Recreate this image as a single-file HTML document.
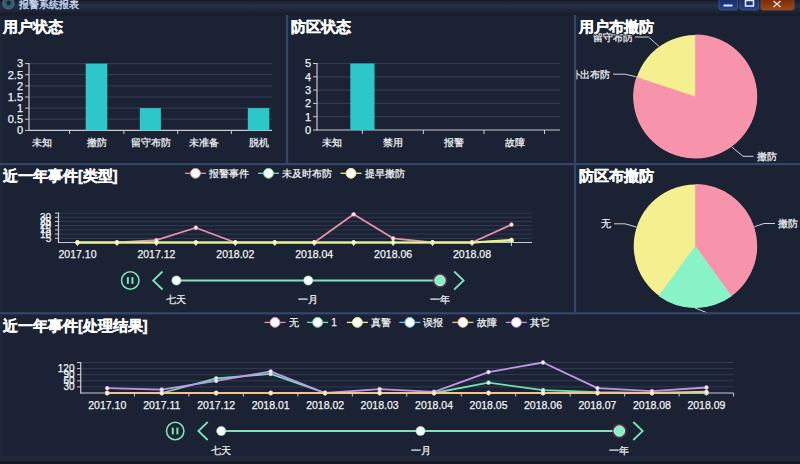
<!DOCTYPE html>
<html><head><meta charset="utf-8"><style>
html,body{margin:0;padding:0;background:#1a2233;width:800px;height:464px;overflow:hidden}
svg{display:block}
text{font-family:"Liberation Sans", sans-serif}
</style></head><body>
<svg width="800" height="464" viewBox="0 0 800 464">
<defs><linearGradient id="tb" x1="0" y1="0" x2="0" y2="1"><stop offset="0" stop-color="#10151f"/><stop offset="0.08" stop-color="#1b2232"/><stop offset="0.35" stop-color="#252f46"/><stop offset="0.6" stop-color="#1f2739"/><stop offset="0.9" stop-color="#171c29"/><stop offset="1" stop-color="#181e2b"/></linearGradient><linearGradient id="btnb" x1="0" y1="0" x2="0" y2="1"><stop offset="0" stop-color="#142762"/><stop offset="1" stop-color="#26418a"/></linearGradient><linearGradient id="btnr" x1="0" y1="0" x2="0" y2="1"><stop offset="0" stop-color="#6a2606"/><stop offset="1" stop-color="#a04814"/></linearGradient><radialGradient id="glow"><stop offset="0.6" stop-color="#f0d8e8" stop-opacity="0.9"/><stop offset="1" stop-color="#b07090" stop-opacity="0"/></radialGradient></defs>
<rect x="0" y="0" width="800" height="464" fill="#1a2233"/>
<rect x="0" y="0" width="800" height="16" fill="url(#tb)"/>
<circle cx="8.4" cy="3.4" r="6.2" fill="#56646f"/>
<circle cx="8.6" cy="3.1" r="5" fill="#2a5f78"/>
<circle cx="8.6" cy="2.8" r="2.1" fill="#241a1e"/>
<text x="19.00" y="7.60" font-size="10" text-anchor="start" fill="#c4d4ee" font-weight="normal" stroke="#c4d4ee" stroke-width="0.4">报警系统报表</text>
<rect x="719" y="-3" width="18.5" height="13" rx="2" fill="url(#btnb)" stroke="#4a5a80" stroke-width="0.8"/>
<rect x="723.5" y="4.5" width="9" height="2" fill="#dde6f5"/>
<rect x="740" y="-3" width="18.5" height="13" rx="2" fill="url(#btnb)" stroke="#4a5a80" stroke-width="0.8"/>
<rect x="745.5" y="0.5" width="8" height="5.5" fill="none" stroke="#dde6f5" stroke-width="1.6"/>
<rect x="761" y="-3" width="33" height="13" rx="2" fill="url(#btnr)" stroke="#7a5040" stroke-width="0.8"/>
<path d="M773.5 1 L780.5 7 M780.5 1 L773.5 7" stroke="#e8e0dc" stroke-width="1.3"/>
<rect x="0" y="16" width="2" height="448" fill="#1f2739"/>
<rect x="4" y="16" width="2" height="448" fill="#1c2435"/>
<rect x="0" y="456" width="800" height="5.5" fill="#1e2637"/>
<rect x="0" y="461.5" width="800" height="2.5" fill="#121723"/>
<text x="3.00" y="32.00" font-size="14.5" text-anchor="start" fill="#ffffff" font-weight="bold" stroke="#ffffff" stroke-width="0.35">用户状态</text>
<text x="290.50" y="32.00" font-size="14.5" text-anchor="start" fill="#ffffff" font-weight="bold" stroke="#ffffff" stroke-width="0.35">防区状态</text>
<text x="579.00" y="32.00" font-size="14.5" text-anchor="start" fill="#ffffff" font-weight="bold" stroke="#ffffff" stroke-width="0.35">用户布撤防</text>
<text x="3.00" y="181.00" font-size="14.5" text-anchor="start" fill="#ffffff" font-weight="bold" stroke="#ffffff" stroke-width="0.35">近一年事件[类型]</text>
<text x="579.00" y="181.00" font-size="14.5" text-anchor="start" fill="#ffffff" font-weight="bold" stroke="#ffffff" stroke-width="0.35">防区布撤防</text>
<text x="3.00" y="330.80" font-size="14.5" text-anchor="start" fill="#ffffff" font-weight="bold" stroke="#ffffff" stroke-width="0.35">近一年事件[处理结果]</text>
<line x1="29.00" y1="63.60" x2="272.00" y2="63.60" stroke="#303b52" stroke-width="1.2" />
<line x1="29.00" y1="74.70" x2="272.00" y2="74.70" stroke="#303b52" stroke-width="1.2" />
<line x1="29.00" y1="85.90" x2="272.00" y2="85.90" stroke="#303b52" stroke-width="1.2" />
<line x1="29.00" y1="97.00" x2="272.00" y2="97.00" stroke="#303b52" stroke-width="1.2" />
<line x1="29.00" y1="108.10" x2="272.00" y2="108.10" stroke="#303b52" stroke-width="1.2" />
<line x1="29.00" y1="119.20" x2="272.00" y2="119.20" stroke="#303b52" stroke-width="1.2" />
<line x1="29.00" y1="130.40" x2="272.00" y2="130.40" stroke="#c9ccd3" stroke-width="1.2" />
<line x1="29.00" y1="63.00" x2="29.00" y2="131.00" stroke="#c9ccd3" stroke-width="1.2" />
<line x1="25.00" y1="63.60" x2="29.00" y2="63.60" stroke="#c9ccd3" stroke-width="1" />
<text x="23.00" y="67.40" font-size="11" text-anchor="end" fill="#f0f2f5" font-weight="normal" stroke="#f0f2f5" stroke-width="0.25">3</text>
<line x1="25.00" y1="74.70" x2="29.00" y2="74.70" stroke="#c9ccd3" stroke-width="1" />
<text x="23.00" y="78.50" font-size="11" text-anchor="end" fill="#f0f2f5" font-weight="normal" stroke="#f0f2f5" stroke-width="0.25">2.5</text>
<line x1="25.00" y1="85.90" x2="29.00" y2="85.90" stroke="#c9ccd3" stroke-width="1" />
<text x="23.00" y="89.70" font-size="11" text-anchor="end" fill="#f0f2f5" font-weight="normal" stroke="#f0f2f5" stroke-width="0.25">2</text>
<line x1="25.00" y1="97.00" x2="29.00" y2="97.00" stroke="#c9ccd3" stroke-width="1" />
<text x="23.00" y="100.80" font-size="11" text-anchor="end" fill="#f0f2f5" font-weight="normal" stroke="#f0f2f5" stroke-width="0.25">1.5</text>
<line x1="25.00" y1="108.10" x2="29.00" y2="108.10" stroke="#c9ccd3" stroke-width="1" />
<text x="23.00" y="111.90" font-size="11" text-anchor="end" fill="#f0f2f5" font-weight="normal" stroke="#f0f2f5" stroke-width="0.25">1</text>
<line x1="25.00" y1="119.20" x2="29.00" y2="119.20" stroke="#c9ccd3" stroke-width="1" />
<text x="23.00" y="123.00" font-size="11" text-anchor="end" fill="#f0f2f5" font-weight="normal" stroke="#f0f2f5" stroke-width="0.25">0.5</text>
<line x1="25.00" y1="130.40" x2="29.00" y2="130.40" stroke="#c9ccd3" stroke-width="1" />
<text x="23.00" y="134.20" font-size="11" text-anchor="end" fill="#f0f2f5" font-weight="normal" stroke="#f0f2f5" stroke-width="0.25">0</text>
<line x1="69.60" y1="130.40" x2="69.60" y2="134.00" stroke="#c9ccd3" stroke-width="1" />
<line x1="123.90" y1="130.40" x2="123.90" y2="134.00" stroke="#c9ccd3" stroke-width="1" />
<line x1="177.70" y1="130.40" x2="177.70" y2="134.00" stroke="#c9ccd3" stroke-width="1" />
<line x1="231.40" y1="130.40" x2="231.40" y2="134.00" stroke="#c9ccd3" stroke-width="1" />
<rect x="85.7" y="63.6" width="21.60" height="66.80" fill="#2ec7c9"/>
<rect x="139.8" y="108.1" width="21.10" height="22.30" fill="#2ec7c9"/>
<rect x="247.8" y="108.1" width="21.50" height="22.30" fill="#2ec7c9"/>
<text x="42.00" y="146.00" font-size="10" text-anchor="middle" fill="#f0f2f5" font-weight="normal" stroke="#f0f2f5" stroke-width="0.25">未知</text>
<text x="97.00" y="146.00" font-size="10" text-anchor="middle" fill="#f0f2f5" font-weight="normal" stroke="#f0f2f5" stroke-width="0.25">撤防</text>
<text x="150.60" y="146.00" font-size="10" text-anchor="middle" fill="#f0f2f5" font-weight="normal" stroke="#f0f2f5" stroke-width="0.25">留守布防</text>
<text x="204.00" y="146.00" font-size="10" text-anchor="middle" fill="#f0f2f5" font-weight="normal" stroke="#f0f2f5" stroke-width="0.25">未准备</text>
<text x="258.50" y="146.00" font-size="10" text-anchor="middle" fill="#f0f2f5" font-weight="normal" stroke="#f0f2f5" stroke-width="0.25">脱机</text>
<line x1="317.00" y1="63.50" x2="560.00" y2="63.50" stroke="#303b52" stroke-width="1.2" />
<line x1="317.00" y1="76.80" x2="560.00" y2="76.80" stroke="#303b52" stroke-width="1.2" />
<line x1="317.00" y1="90.10" x2="560.00" y2="90.10" stroke="#303b52" stroke-width="1.2" />
<line x1="317.00" y1="103.40" x2="560.00" y2="103.40" stroke="#303b52" stroke-width="1.2" />
<line x1="317.00" y1="116.70" x2="560.00" y2="116.70" stroke="#303b52" stroke-width="1.2" />
<line x1="317.00" y1="130.00" x2="560.00" y2="130.00" stroke="#c9ccd3" stroke-width="1.2" />
<line x1="317.00" y1="63.00" x2="317.00" y2="130.60" stroke="#c9ccd3" stroke-width="1.2" />
<line x1="313.00" y1="63.50" x2="317.00" y2="63.50" stroke="#c9ccd3" stroke-width="1" />
<text x="311.00" y="67.30" font-size="11" text-anchor="end" fill="#f0f2f5" font-weight="normal" stroke="#f0f2f5" stroke-width="0.25">5</text>
<line x1="313.00" y1="76.80" x2="317.00" y2="76.80" stroke="#c9ccd3" stroke-width="1" />
<text x="311.00" y="80.60" font-size="11" text-anchor="end" fill="#f0f2f5" font-weight="normal" stroke="#f0f2f5" stroke-width="0.25">4</text>
<line x1="313.00" y1="90.10" x2="317.00" y2="90.10" stroke="#c9ccd3" stroke-width="1" />
<text x="311.00" y="93.90" font-size="11" text-anchor="end" fill="#f0f2f5" font-weight="normal" stroke="#f0f2f5" stroke-width="0.25">3</text>
<line x1="313.00" y1="103.40" x2="317.00" y2="103.40" stroke="#c9ccd3" stroke-width="1" />
<text x="311.00" y="107.20" font-size="11" text-anchor="end" fill="#f0f2f5" font-weight="normal" stroke="#f0f2f5" stroke-width="0.25">2</text>
<line x1="313.00" y1="116.70" x2="317.00" y2="116.70" stroke="#c9ccd3" stroke-width="1" />
<text x="311.00" y="120.50" font-size="11" text-anchor="end" fill="#f0f2f5" font-weight="normal" stroke="#f0f2f5" stroke-width="0.25">1</text>
<line x1="313.00" y1="130.00" x2="317.00" y2="130.00" stroke="#c9ccd3" stroke-width="1" />
<text x="311.00" y="133.80" font-size="11" text-anchor="end" fill="#f0f2f5" font-weight="normal" stroke="#f0f2f5" stroke-width="0.25">0</text>
<line x1="362.40" y1="130.00" x2="362.40" y2="134.00" stroke="#c9ccd3" stroke-width="1" />
<line x1="423.40" y1="130.00" x2="423.40" y2="134.00" stroke="#c9ccd3" stroke-width="1" />
<line x1="484.00" y1="130.00" x2="484.00" y2="134.00" stroke="#c9ccd3" stroke-width="1" />
<line x1="544.50" y1="130.00" x2="544.50" y2="134.00" stroke="#c9ccd3" stroke-width="1" />
<rect x="350.3" y="63.5" width="24.2" height="66.5" fill="#2ec7c9"/>
<text x="332.00" y="146.00" font-size="10" text-anchor="middle" fill="#f0f2f5" font-weight="normal" stroke="#f0f2f5" stroke-width="0.25">未知</text>
<text x="393.00" y="146.00" font-size="10" text-anchor="middle" fill="#f0f2f5" font-weight="normal" stroke="#f0f2f5" stroke-width="0.25">禁用</text>
<text x="454.00" y="146.00" font-size="10" text-anchor="middle" fill="#f0f2f5" font-weight="normal" stroke="#f0f2f5" stroke-width="0.25">报警</text>
<text x="514.60" y="146.00" font-size="10" text-anchor="middle" fill="#f0f2f5" font-weight="normal" stroke="#f0f2f5" stroke-width="0.25">故障</text>
<circle cx="695.2" cy="96.5" r="61.5" fill="#f5f08f"/>
<path d="M695.2 96.5 L695.20 34.50 A62 62 0 1 1 636.31 77.11 Z" fill="#f793ab"/>
<polyline points="659.2,46.5 648.5,37 635,37" fill="none" stroke="#d0d3d8" stroke-width="1"/>
<text x="632.50" y="40.60" font-size="10" text-anchor="end" fill="#f0f2f5" font-weight="normal" stroke="#f0f2f5" stroke-width="0.25">留守布防</text>
<text x="579.00" y="32.00" font-size="14.5" text-anchor="start" fill="#ffffff" font-weight="bold" stroke="#1a2233" stroke-width="2.4">用户布撤防</text>
<text x="579.00" y="32.00" font-size="14.5" text-anchor="start" fill="#ffffff" font-weight="bold" stroke="#ffffff" stroke-width="0.35">用户布撤防</text>
<polyline points="636.4,76.8 625,74.2 613,74.2" fill="none" stroke="#d0d3d8" stroke-width="1"/>
<clipPath id="cp1"><rect x="576.2" y="16" width="224" height="147"/></clipPath>
<text x="610.00" y="77.80" font-size="10" text-anchor="end" fill="#f0f2f5" font-weight="normal" stroke="#f0f2f5" stroke-width="0.25" clip-path="url(#cp1)">外出布防</text>
<polyline points="731.8,147 743,156.3 753.5,156.3" fill="none" stroke="#d0d3d8" stroke-width="1"/>
<text x="756.50" y="159.80" font-size="10" text-anchor="start" fill="#f0f2f5" font-weight="normal" stroke="#f0f2f5" stroke-width="0.25">撤防</text>
<circle cx="695.2" cy="246" r="61.5" fill="#f5f08f"/>
<path d="M695.2 246 L695.20 184.00 A62 62 0 0 1 731.44 296.30 Z" fill="#f793ab"/>
<path d="M695.2 246 L731.64 296.16 A62 62 0 0 1 658.56 296.01 Z" fill="#88f3c6"/>
<polyline points="754.4,226.7 764,223.5 775,223.5" fill="none" stroke="#d0d3d8" stroke-width="1"/>
<text x="778.00" y="227.00" font-size="10" text-anchor="start" fill="#f0f2f5" font-weight="normal" stroke="#f0f2f5" stroke-width="0.25">撤防</text>
<polyline points="636.4,227 625,223.8 614,223.8" fill="none" stroke="#d0d3d8" stroke-width="1"/>
<text x="610.60" y="227.30" font-size="10" text-anchor="end" fill="#f0f2f5" font-weight="normal" stroke="#f0f2f5" stroke-width="0.25">无</text>
<polyline points="694.6,307.8 707.6,313" fill="none" stroke="#d0d3d8" stroke-width="1"/>
<line x1="58.50" y1="238.30" x2="532.00" y2="238.30" stroke="#303b52" stroke-width="1" />
<line x1="58.50" y1="234.10" x2="532.00" y2="234.10" stroke="#303b52" stroke-width="1" />
<line x1="58.50" y1="229.90" x2="532.00" y2="229.90" stroke="#303b52" stroke-width="1" />
<line x1="58.50" y1="225.70" x2="532.00" y2="225.70" stroke="#303b52" stroke-width="1" />
<line x1="58.50" y1="221.50" x2="532.00" y2="221.50" stroke="#303b52" stroke-width="1" />
<line x1="58.50" y1="217.30" x2="532.00" y2="217.30" stroke="#303b52" stroke-width="1" />
<line x1="58.50" y1="213.10" x2="532.00" y2="213.10" stroke="#303b52" stroke-width="1" />
<line x1="58.50" y1="242.50" x2="532.00" y2="242.50" stroke="#c9ccd3" stroke-width="1.2" />
<line x1="58.50" y1="212.50" x2="58.50" y2="243.00" stroke="#c9ccd3" stroke-width="1.2" />
<line x1="55.00" y1="238.30" x2="58.50" y2="238.30" stroke="#c9ccd3" stroke-width="1" />
<line x1="55.00" y1="234.10" x2="58.50" y2="234.10" stroke="#c9ccd3" stroke-width="1" />
<line x1="55.00" y1="229.90" x2="58.50" y2="229.90" stroke="#c9ccd3" stroke-width="1" />
<line x1="55.00" y1="225.70" x2="58.50" y2="225.70" stroke="#c9ccd3" stroke-width="1" />
<line x1="55.00" y1="221.50" x2="58.50" y2="221.50" stroke="#c9ccd3" stroke-width="1" />
<line x1="55.00" y1="217.30" x2="58.50" y2="217.30" stroke="#c9ccd3" stroke-width="1" />
<line x1="55.00" y1="213.10" x2="58.50" y2="213.10" stroke="#c9ccd3" stroke-width="1" />
<text x="51.20" y="241.70" font-size="10" text-anchor="end" fill="#f0f2f5" font-weight="normal" stroke="#f0f2f5" stroke-width="0.25">5</text>
<text x="51.20" y="237.50" font-size="10" text-anchor="end" fill="#f0f2f5" font-weight="normal" stroke="#f0f2f5" stroke-width="0.25">10</text>
<text x="51.20" y="233.30" font-size="10" text-anchor="end" fill="#f0f2f5" font-weight="normal" stroke="#f0f2f5" stroke-width="0.25">15</text>
<text x="51.20" y="229.10" font-size="10" text-anchor="end" fill="#f0f2f5" font-weight="normal" stroke="#f0f2f5" stroke-width="0.25">20</text>
<text x="51.20" y="224.90" font-size="10" text-anchor="end" fill="#f0f2f5" font-weight="normal" stroke="#f0f2f5" stroke-width="0.25">25</text>
<text x="51.20" y="220.70" font-size="10" text-anchor="end" fill="#f0f2f5" font-weight="normal" stroke="#f0f2f5" stroke-width="0.25">30</text>
<line x1="77.50" y1="242.50" x2="77.50" y2="246.00" stroke="#c9ccd3" stroke-width="1" />
<line x1="116.95" y1="242.50" x2="116.95" y2="246.00" stroke="#c9ccd3" stroke-width="1" />
<line x1="156.40" y1="242.50" x2="156.40" y2="246.00" stroke="#c9ccd3" stroke-width="1" />
<line x1="195.85" y1="242.50" x2="195.85" y2="246.00" stroke="#c9ccd3" stroke-width="1" />
<line x1="235.30" y1="242.50" x2="235.30" y2="246.00" stroke="#c9ccd3" stroke-width="1" />
<line x1="274.75" y1="242.50" x2="274.75" y2="246.00" stroke="#c9ccd3" stroke-width="1" />
<line x1="314.20" y1="242.50" x2="314.20" y2="246.00" stroke="#c9ccd3" stroke-width="1" />
<line x1="353.65" y1="242.50" x2="353.65" y2="246.00" stroke="#c9ccd3" stroke-width="1" />
<line x1="393.10" y1="242.50" x2="393.10" y2="246.00" stroke="#c9ccd3" stroke-width="1" />
<line x1="432.55" y1="242.50" x2="432.55" y2="246.00" stroke="#c9ccd3" stroke-width="1" />
<line x1="472.00" y1="242.50" x2="472.00" y2="246.00" stroke="#c9ccd3" stroke-width="1" />
<line x1="511.45" y1="242.50" x2="511.45" y2="246.00" stroke="#c9ccd3" stroke-width="1" />
<text x="77.50" y="258.30" font-size="10.5" text-anchor="middle" fill="#f0f2f5" font-weight="normal" stroke="#f0f2f5" stroke-width="0.25">2017.10</text>
<text x="156.40" y="258.30" font-size="10.5" text-anchor="middle" fill="#f0f2f5" font-weight="normal" stroke="#f0f2f5" stroke-width="0.25">2017.12</text>
<text x="235.30" y="258.30" font-size="10.5" text-anchor="middle" fill="#f0f2f5" font-weight="normal" stroke="#f0f2f5" stroke-width="0.25">2018.02</text>
<text x="314.20" y="258.30" font-size="10.5" text-anchor="middle" fill="#f0f2f5" font-weight="normal" stroke="#f0f2f5" stroke-width="0.25">2018.04</text>
<text x="393.10" y="258.30" font-size="10.5" text-anchor="middle" fill="#f0f2f5" font-weight="normal" stroke="#f0f2f5" stroke-width="0.25">2018.06</text>
<text x="472.00" y="258.30" font-size="10.5" text-anchor="middle" fill="#f0f2f5" font-weight="normal" stroke="#f0f2f5" stroke-width="0.25">2018.08</text>
<polyline points="77.50,242.50 116.95,242.50 156.40,240.20 195.85,227.75 235.30,242.50 274.75,242.50 314.20,242.50 353.65,214.30 393.10,238.30 432.55,242.50 472.00,242.50 511.45,224.60" fill="none" stroke="#ea8fae" stroke-width="1.8" stroke-linejoin="round"/>
<circle cx="77.50" cy="242.50" r="1.9" fill="#ffffff" stroke="#ea8fae" stroke-width="0.8"/>
<circle cx="116.95" cy="242.50" r="1.9" fill="#ffffff" stroke="#ea8fae" stroke-width="0.8"/>
<circle cx="156.40" cy="240.20" r="1.9" fill="#ffffff" stroke="#ea8fae" stroke-width="0.8"/>
<circle cx="195.85" cy="227.75" r="1.9" fill="#ffffff" stroke="#ea8fae" stroke-width="0.8"/>
<circle cx="235.30" cy="242.50" r="1.9" fill="#ffffff" stroke="#ea8fae" stroke-width="0.8"/>
<circle cx="274.75" cy="242.50" r="1.9" fill="#ffffff" stroke="#ea8fae" stroke-width="0.8"/>
<circle cx="314.20" cy="242.50" r="1.9" fill="#ffffff" stroke="#ea8fae" stroke-width="0.8"/>
<circle cx="353.65" cy="214.30" r="1.9" fill="#ffffff" stroke="#ea8fae" stroke-width="0.8"/>
<circle cx="393.10" cy="238.30" r="1.9" fill="#ffffff" stroke="#ea8fae" stroke-width="0.8"/>
<circle cx="432.55" cy="242.50" r="1.9" fill="#ffffff" stroke="#ea8fae" stroke-width="0.8"/>
<circle cx="472.00" cy="242.50" r="1.9" fill="#ffffff" stroke="#ea8fae" stroke-width="0.8"/>
<circle cx="511.45" cy="224.60" r="1.9" fill="#ffffff" stroke="#ea8fae" stroke-width="0.8"/>
<polyline points="77.50,242.50 116.95,242.50 156.40,242.50 195.85,242.50 235.30,242.50 274.75,242.50 314.20,242.50 353.65,242.50 393.10,242.50 432.55,242.50 472.00,242.50 511.45,240.82" fill="none" stroke="#6fe0b4" stroke-width="1.8" stroke-linejoin="round"/>
<circle cx="77.50" cy="242.50" r="1.9" fill="#ffffff" stroke="#6fe0b4" stroke-width="0.8"/>
<circle cx="116.95" cy="242.50" r="1.9" fill="#ffffff" stroke="#6fe0b4" stroke-width="0.8"/>
<circle cx="156.40" cy="242.50" r="1.9" fill="#ffffff" stroke="#6fe0b4" stroke-width="0.8"/>
<circle cx="195.85" cy="242.50" r="1.9" fill="#ffffff" stroke="#6fe0b4" stroke-width="0.8"/>
<circle cx="235.30" cy="242.50" r="1.9" fill="#ffffff" stroke="#6fe0b4" stroke-width="0.8"/>
<circle cx="274.75" cy="242.50" r="1.9" fill="#ffffff" stroke="#6fe0b4" stroke-width="0.8"/>
<circle cx="314.20" cy="242.50" r="1.9" fill="#ffffff" stroke="#6fe0b4" stroke-width="0.8"/>
<circle cx="353.65" cy="242.50" r="1.9" fill="#ffffff" stroke="#6fe0b4" stroke-width="0.8"/>
<circle cx="393.10" cy="242.50" r="1.9" fill="#ffffff" stroke="#6fe0b4" stroke-width="0.8"/>
<circle cx="432.55" cy="242.50" r="1.9" fill="#ffffff" stroke="#6fe0b4" stroke-width="0.8"/>
<circle cx="472.00" cy="242.50" r="1.9" fill="#ffffff" stroke="#6fe0b4" stroke-width="0.8"/>
<circle cx="511.45" cy="240.82" r="1.9" fill="#ffffff" stroke="#6fe0b4" stroke-width="0.8"/>
<polyline points="77.50,242.50 116.95,242.50 156.40,242.50 195.85,242.50 235.30,242.50 274.75,242.50 314.20,242.50 353.65,242.50 393.10,242.50 432.55,242.50 472.00,242.50 511.45,239.98" fill="none" stroke="#f3ef86" stroke-width="2.2" stroke-linejoin="round"/>
<circle cx="77.50" cy="242.50" r="1.9" fill="#ffffff" stroke="#f3ef86" stroke-width="0.8"/>
<circle cx="116.95" cy="242.50" r="1.9" fill="#ffffff" stroke="#f3ef86" stroke-width="0.8"/>
<circle cx="156.40" cy="242.50" r="1.9" fill="#ffffff" stroke="#f3ef86" stroke-width="0.8"/>
<circle cx="195.85" cy="242.50" r="1.9" fill="#ffffff" stroke="#f3ef86" stroke-width="0.8"/>
<circle cx="235.30" cy="242.50" r="1.9" fill="#ffffff" stroke="#f3ef86" stroke-width="0.8"/>
<circle cx="274.75" cy="242.50" r="1.9" fill="#ffffff" stroke="#f3ef86" stroke-width="0.8"/>
<circle cx="314.20" cy="242.50" r="1.9" fill="#ffffff" stroke="#f3ef86" stroke-width="0.8"/>
<circle cx="353.65" cy="242.50" r="1.9" fill="#ffffff" stroke="#f3ef86" stroke-width="0.8"/>
<circle cx="393.10" cy="242.50" r="1.9" fill="#ffffff" stroke="#f3ef86" stroke-width="0.8"/>
<circle cx="432.55" cy="242.50" r="1.9" fill="#ffffff" stroke="#f3ef86" stroke-width="0.8"/>
<circle cx="472.00" cy="242.50" r="1.9" fill="#ffffff" stroke="#f3ef86" stroke-width="0.8"/>
<circle cx="511.45" cy="239.98" r="1.9" fill="#ffffff" stroke="#f3ef86" stroke-width="0.8"/>
<line x1="184.95" y1="173.30" x2="205.95" y2="173.30" stroke="#ea8fae" stroke-width="1.3" />
<circle cx="195.45" cy="173.3" r="4.9" fill="#ffffff" stroke="#ea8fae" stroke-width="1"/>
<text x="209.05" y="176.90" font-size="10" text-anchor="start" fill="#f0f2f5" font-weight="normal" stroke="#f0f2f5" stroke-width="0.25">报警事件</text>
<line x1="258.00" y1="173.30" x2="279.00" y2="173.30" stroke="#6fe0b4" stroke-width="1.3" />
<circle cx="268.5" cy="173.3" r="4.9" fill="#ffffff" stroke="#6fe0b4" stroke-width="1"/>
<text x="282.10" y="176.90" font-size="10" text-anchor="start" fill="#f0f2f5" font-weight="normal" stroke="#f0f2f5" stroke-width="0.25">未及时布防</text>
<line x1="340.50" y1="173.30" x2="361.50" y2="173.30" stroke="#f3ef86" stroke-width="1.3" />
<circle cx="351" cy="173.3" r="4.9" fill="#ffffff" stroke="#f3ef86" stroke-width="1"/>
<text x="364.60" y="176.90" font-size="10" text-anchor="start" fill="#f0f2f5" font-weight="normal" stroke="#f0f2f5" stroke-width="0.25">提早撤防</text>
<circle cx="130.25" cy="280.5" r="8.7" fill="none" stroke="#7de3b8" stroke-width="1.6"/>
<rect x="126.85" y="277.1" width="2" height="6.8" fill="#7de3b8"/>
<rect x="131.45" y="277.1" width="2" height="6.8" fill="#7de3b8"/>
<polyline points="162.5,271.5 153.2,280.5 162.5,289.5" fill="none" stroke="#7de3b8" stroke-width="1.8"/>
<line x1="176.45" y1="280.50" x2="440.00" y2="280.50" stroke="#7de3b8" stroke-width="2.2" />
<circle cx="176.45" cy="280.5" r="4.6" fill="#ffffff" stroke="#7de3b8" stroke-width="0.6"/>
<circle cx="308.25" cy="280.5" r="4.6" fill="#ffffff" stroke="#7de3b8" stroke-width="0.6"/>
<circle cx="440" cy="280.5" r="7.3" fill="#5e3f58" fill-opacity="0.75"/>
<circle cx="440" cy="280.5" r="5.2" fill="#88eec4" stroke="#d6f5e6" stroke-width="0.9"/>
<polyline points="454.2,271.5 463.59999999999997,280.5 454.2,289.5" fill="none" stroke="#7de3b8" stroke-width="1.8"/>
<text x="176.45" y="302.80" font-size="10" text-anchor="middle" fill="#f0f2f5" font-weight="normal" stroke="#f0f2f5" stroke-width="0.25">七天</text>
<text x="308.25" y="302.80" font-size="10" text-anchor="middle" fill="#f0f2f5" font-weight="normal" stroke="#f0f2f5" stroke-width="0.25">一月</text>
<text x="440.00" y="302.80" font-size="10" text-anchor="middle" fill="#f0f2f5" font-weight="normal" stroke="#f0f2f5" stroke-width="0.25">一年</text>
<line x1="80.70" y1="386.90" x2="733.60" y2="386.90" stroke="#303b52" stroke-width="1" />
<line x1="80.70" y1="380.80" x2="733.60" y2="380.80" stroke="#303b52" stroke-width="1" />
<line x1="80.70" y1="374.70" x2="733.60" y2="374.70" stroke="#303b52" stroke-width="1" />
<line x1="80.70" y1="368.60" x2="733.60" y2="368.60" stroke="#303b52" stroke-width="1" />
<line x1="80.70" y1="362.50" x2="733.60" y2="362.50" stroke="#303b52" stroke-width="1" />
<line x1="80.70" y1="393.00" x2="733.60" y2="393.00" stroke="#c9ccd3" stroke-width="1.2" />
<line x1="80.70" y1="362.00" x2="80.70" y2="393.50" stroke="#c9ccd3" stroke-width="1.2" />
<line x1="77.00" y1="386.90" x2="80.70" y2="386.90" stroke="#c9ccd3" stroke-width="1" />
<line x1="77.00" y1="380.80" x2="80.70" y2="380.80" stroke="#c9ccd3" stroke-width="1" />
<line x1="77.00" y1="374.70" x2="80.70" y2="374.70" stroke="#c9ccd3" stroke-width="1" />
<line x1="77.00" y1="368.60" x2="80.70" y2="368.60" stroke="#c9ccd3" stroke-width="1" />
<line x1="77.00" y1="362.50" x2="80.70" y2="362.50" stroke="#c9ccd3" stroke-width="1" />
<text x="74.50" y="390.30" font-size="10" text-anchor="end" fill="#f0f2f5" font-weight="normal" stroke="#f0f2f5" stroke-width="0.25">30</text>
<text x="74.50" y="384.20" font-size="10" text-anchor="end" fill="#f0f2f5" font-weight="normal" stroke="#f0f2f5" stroke-width="0.25">60</text>
<text x="74.50" y="378.10" font-size="10" text-anchor="end" fill="#f0f2f5" font-weight="normal" stroke="#f0f2f5" stroke-width="0.25">90</text>
<text x="74.50" y="372.00" font-size="10" text-anchor="end" fill="#f0f2f5" font-weight="normal" stroke="#f0f2f5" stroke-width="0.25">120</text>
<line x1="134.45" y1="393.00" x2="134.45" y2="396.50" stroke="#c9ccd3" stroke-width="1" />
<line x1="188.92" y1="393.00" x2="188.92" y2="396.50" stroke="#c9ccd3" stroke-width="1" />
<line x1="243.39" y1="393.00" x2="243.39" y2="396.50" stroke="#c9ccd3" stroke-width="1" />
<line x1="297.86" y1="393.00" x2="297.86" y2="396.50" stroke="#c9ccd3" stroke-width="1" />
<line x1="352.33" y1="393.00" x2="352.33" y2="396.50" stroke="#c9ccd3" stroke-width="1" />
<line x1="406.80" y1="393.00" x2="406.80" y2="396.50" stroke="#c9ccd3" stroke-width="1" />
<line x1="461.27" y1="393.00" x2="461.27" y2="396.50" stroke="#c9ccd3" stroke-width="1" />
<line x1="515.74" y1="393.00" x2="515.74" y2="396.50" stroke="#c9ccd3" stroke-width="1" />
<line x1="570.21" y1="393.00" x2="570.21" y2="396.50" stroke="#c9ccd3" stroke-width="1" />
<line x1="624.68" y1="393.00" x2="624.68" y2="396.50" stroke="#c9ccd3" stroke-width="1" />
<line x1="679.15" y1="393.00" x2="679.15" y2="396.50" stroke="#c9ccd3" stroke-width="1" />
<line x1="733.62" y1="393.00" x2="733.62" y2="396.50" stroke="#c9ccd3" stroke-width="1" />
<text x="107.25" y="408.90" font-size="10.5" text-anchor="middle" fill="#f0f2f5" font-weight="normal" stroke="#f0f2f5" stroke-width="0.25">2017.10</text>
<text x="161.72" y="408.90" font-size="10.5" text-anchor="middle" fill="#f0f2f5" font-weight="normal" stroke="#f0f2f5" stroke-width="0.25">2017.11</text>
<text x="216.19" y="408.90" font-size="10.5" text-anchor="middle" fill="#f0f2f5" font-weight="normal" stroke="#f0f2f5" stroke-width="0.25">2017.12</text>
<text x="270.66" y="408.90" font-size="10.5" text-anchor="middle" fill="#f0f2f5" font-weight="normal" stroke="#f0f2f5" stroke-width="0.25">2018.01</text>
<text x="325.13" y="408.90" font-size="10.5" text-anchor="middle" fill="#f0f2f5" font-weight="normal" stroke="#f0f2f5" stroke-width="0.25">2018.02</text>
<text x="379.60" y="408.90" font-size="10.5" text-anchor="middle" fill="#f0f2f5" font-weight="normal" stroke="#f0f2f5" stroke-width="0.25">2018.03</text>
<text x="434.07" y="408.90" font-size="10.5" text-anchor="middle" fill="#f0f2f5" font-weight="normal" stroke="#f0f2f5" stroke-width="0.25">2018.04</text>
<text x="488.54" y="408.90" font-size="10.5" text-anchor="middle" fill="#f0f2f5" font-weight="normal" stroke="#f0f2f5" stroke-width="0.25">2018.05</text>
<text x="543.01" y="408.90" font-size="10.5" text-anchor="middle" fill="#f0f2f5" font-weight="normal" stroke="#f0f2f5" stroke-width="0.25">2018.06</text>
<text x="597.48" y="408.90" font-size="10.5" text-anchor="middle" fill="#f0f2f5" font-weight="normal" stroke="#f0f2f5" stroke-width="0.25">2018.07</text>
<text x="651.95" y="408.90" font-size="10.5" text-anchor="middle" fill="#f0f2f5" font-weight="normal" stroke="#f0f2f5" stroke-width="0.25">2018.08</text>
<text x="706.42" y="408.90" font-size="10.5" text-anchor="middle" fill="#f0f2f5" font-weight="normal" stroke="#f0f2f5" stroke-width="0.25">2018.09</text>
<polyline points="107.25,393.00 161.72,393.00 216.19,393.00 270.66,393.00 325.13,393.00 379.60,393.00 434.07,393.00 488.54,393.00 543.01,393.00 597.48,393.00 651.95,393.00 706.42,393.00" fill="none" stroke="#6cc6f5" stroke-width="1.8" stroke-linejoin="round"/>
<circle cx="107.25" cy="393.00" r="1.9" fill="#ffffff" stroke="#6cc6f5" stroke-width="0.8"/>
<circle cx="161.72" cy="393.00" r="1.9" fill="#ffffff" stroke="#6cc6f5" stroke-width="0.8"/>
<circle cx="216.19" cy="393.00" r="1.9" fill="#ffffff" stroke="#6cc6f5" stroke-width="0.8"/>
<circle cx="270.66" cy="393.00" r="1.9" fill="#ffffff" stroke="#6cc6f5" stroke-width="0.8"/>
<circle cx="325.13" cy="393.00" r="1.9" fill="#ffffff" stroke="#6cc6f5" stroke-width="0.8"/>
<circle cx="379.60" cy="393.00" r="1.9" fill="#ffffff" stroke="#6cc6f5" stroke-width="0.8"/>
<circle cx="434.07" cy="393.00" r="1.9" fill="#ffffff" stroke="#6cc6f5" stroke-width="0.8"/>
<circle cx="488.54" cy="393.00" r="1.9" fill="#ffffff" stroke="#6cc6f5" stroke-width="0.8"/>
<circle cx="543.01" cy="393.00" r="1.9" fill="#ffffff" stroke="#6cc6f5" stroke-width="0.8"/>
<circle cx="597.48" cy="393.00" r="1.9" fill="#ffffff" stroke="#6cc6f5" stroke-width="0.8"/>
<circle cx="651.95" cy="393.00" r="1.9" fill="#ffffff" stroke="#6cc6f5" stroke-width="0.8"/>
<circle cx="706.42" cy="393.00" r="1.9" fill="#ffffff" stroke="#6cc6f5" stroke-width="0.8"/>
<polyline points="107.25,393.00 161.72,393.00 216.19,393.00 270.66,393.00 325.13,393.00 379.60,393.00 434.07,393.00 488.54,393.00 543.01,393.00 597.48,393.00 651.95,393.00 706.42,393.00" fill="none" stroke="#f3ef86" stroke-width="1.8" stroke-linejoin="round"/>
<circle cx="107.25" cy="393.00" r="1.9" fill="#ffffff" stroke="#f3ef86" stroke-width="0.8"/>
<circle cx="161.72" cy="393.00" r="1.9" fill="#ffffff" stroke="#f3ef86" stroke-width="0.8"/>
<circle cx="216.19" cy="393.00" r="1.9" fill="#ffffff" stroke="#f3ef86" stroke-width="0.8"/>
<circle cx="270.66" cy="393.00" r="1.9" fill="#ffffff" stroke="#f3ef86" stroke-width="0.8"/>
<circle cx="325.13" cy="393.00" r="1.9" fill="#ffffff" stroke="#f3ef86" stroke-width="0.8"/>
<circle cx="379.60" cy="393.00" r="1.9" fill="#ffffff" stroke="#f3ef86" stroke-width="0.8"/>
<circle cx="434.07" cy="393.00" r="1.9" fill="#ffffff" stroke="#f3ef86" stroke-width="0.8"/>
<circle cx="488.54" cy="393.00" r="1.9" fill="#ffffff" stroke="#f3ef86" stroke-width="0.8"/>
<circle cx="543.01" cy="393.00" r="1.9" fill="#ffffff" stroke="#f3ef86" stroke-width="0.8"/>
<circle cx="597.48" cy="393.00" r="1.9" fill="#ffffff" stroke="#f3ef86" stroke-width="0.8"/>
<circle cx="651.95" cy="393.00" r="1.9" fill="#ffffff" stroke="#f3ef86" stroke-width="0.8"/>
<circle cx="706.42" cy="393.00" r="1.9" fill="#ffffff" stroke="#f3ef86" stroke-width="0.8"/>
<polyline points="107.25,393.00 161.72,393.00 216.19,378.36 270.66,373.89 325.13,393.00 379.60,393.00 434.07,393.00 488.54,382.63 543.01,390.15 597.48,392.19 651.95,393.00 706.42,393.00" fill="none" stroke="#6fe0b4" stroke-width="1.8" stroke-linejoin="round"/>
<circle cx="107.25" cy="393.00" r="1.9" fill="#ffffff" stroke="#6fe0b4" stroke-width="0.8"/>
<circle cx="161.72" cy="393.00" r="1.9" fill="#ffffff" stroke="#6fe0b4" stroke-width="0.8"/>
<circle cx="216.19" cy="378.36" r="1.9" fill="#ffffff" stroke="#6fe0b4" stroke-width="0.8"/>
<circle cx="270.66" cy="373.89" r="1.9" fill="#ffffff" stroke="#6fe0b4" stroke-width="0.8"/>
<circle cx="325.13" cy="393.00" r="1.9" fill="#ffffff" stroke="#6fe0b4" stroke-width="0.8"/>
<circle cx="379.60" cy="393.00" r="1.9" fill="#ffffff" stroke="#6fe0b4" stroke-width="0.8"/>
<circle cx="434.07" cy="393.00" r="1.9" fill="#ffffff" stroke="#6fe0b4" stroke-width="0.8"/>
<circle cx="488.54" cy="382.63" r="1.9" fill="#ffffff" stroke="#6fe0b4" stroke-width="0.8"/>
<circle cx="543.01" cy="390.15" r="1.9" fill="#ffffff" stroke="#6fe0b4" stroke-width="0.8"/>
<circle cx="597.48" cy="392.19" r="1.9" fill="#ffffff" stroke="#6fe0b4" stroke-width="0.8"/>
<circle cx="651.95" cy="393.00" r="1.9" fill="#ffffff" stroke="#6fe0b4" stroke-width="0.8"/>
<circle cx="706.42" cy="393.00" r="1.9" fill="#ffffff" stroke="#6fe0b4" stroke-width="0.8"/>
<polyline points="107.25,388.22 161.72,389.54 216.19,380.80 270.66,371.45 325.13,393.00 379.60,389.14 434.07,391.78 488.54,372.06 543.01,362.50 597.48,388.12 651.95,391.17 706.42,387.51" fill="none" stroke="#c395e6" stroke-width="1.8" stroke-linejoin="round"/>
<circle cx="107.25" cy="388.22" r="1.9" fill="#ffffff" stroke="#c395e6" stroke-width="0.8"/>
<circle cx="161.72" cy="389.54" r="1.9" fill="#ffffff" stroke="#c395e6" stroke-width="0.8"/>
<circle cx="216.19" cy="380.80" r="1.9" fill="#ffffff" stroke="#c395e6" stroke-width="0.8"/>
<circle cx="270.66" cy="371.45" r="1.9" fill="#ffffff" stroke="#c395e6" stroke-width="0.8"/>
<circle cx="325.13" cy="393.00" r="1.9" fill="#ffffff" stroke="#c395e6" stroke-width="0.8"/>
<circle cx="379.60" cy="389.14" r="1.9" fill="#ffffff" stroke="#c395e6" stroke-width="0.8"/>
<circle cx="434.07" cy="391.78" r="1.9" fill="#ffffff" stroke="#c395e6" stroke-width="0.8"/>
<circle cx="488.54" cy="372.06" r="1.9" fill="#ffffff" stroke="#c395e6" stroke-width="0.8"/>
<circle cx="543.01" cy="362.50" r="1.9" fill="#ffffff" stroke="#c395e6" stroke-width="0.8"/>
<circle cx="597.48" cy="388.12" r="1.9" fill="#ffffff" stroke="#c395e6" stroke-width="0.8"/>
<circle cx="651.95" cy="391.17" r="1.9" fill="#ffffff" stroke="#c395e6" stroke-width="0.8"/>
<circle cx="706.42" cy="387.51" r="1.9" fill="#ffffff" stroke="#c395e6" stroke-width="0.8"/>
<polyline points="107.25,393.00 161.72,393.00 216.19,393.00 270.66,393.00 325.13,393.00 379.60,393.00 434.07,393.00 488.54,393.00 543.01,393.00 597.48,393.00 651.95,393.00 706.42,391.78" fill="none" stroke="#f2c58e" stroke-width="2.2" stroke-linejoin="round"/>
<circle cx="107.25" cy="393.00" r="1.9" fill="#ffffff" stroke="#f2c58e" stroke-width="0.8"/>
<circle cx="161.72" cy="393.00" r="1.9" fill="#ffffff" stroke="#f2c58e" stroke-width="0.8"/>
<circle cx="216.19" cy="393.00" r="1.9" fill="#ffffff" stroke="#f2c58e" stroke-width="0.8"/>
<circle cx="270.66" cy="393.00" r="1.9" fill="#ffffff" stroke="#f2c58e" stroke-width="0.8"/>
<circle cx="325.13" cy="393.00" r="1.9" fill="#ffffff" stroke="#f2c58e" stroke-width="0.8"/>
<circle cx="379.60" cy="393.00" r="1.9" fill="#ffffff" stroke="#f2c58e" stroke-width="0.8"/>
<circle cx="434.07" cy="393.00" r="1.9" fill="#ffffff" stroke="#f2c58e" stroke-width="0.8"/>
<circle cx="488.54" cy="393.00" r="1.9" fill="#ffffff" stroke="#f2c58e" stroke-width="0.8"/>
<circle cx="543.01" cy="393.00" r="1.9" fill="#ffffff" stroke="#f2c58e" stroke-width="0.8"/>
<circle cx="597.48" cy="393.00" r="1.9" fill="#ffffff" stroke="#f2c58e" stroke-width="0.8"/>
<circle cx="651.95" cy="393.00" r="1.9" fill="#ffffff" stroke="#f2c58e" stroke-width="0.8"/>
<circle cx="706.42" cy="391.78" r="1.9" fill="#ffffff" stroke="#f2c58e" stroke-width="0.8"/>
<line x1="264.50" y1="322.40" x2="285.50" y2="322.40" stroke="#ea8fae" stroke-width="1.3" />
<circle cx="275" cy="322.4" r="4.9" fill="#ffffff" stroke="#ea8fae" stroke-width="1"/>
<text x="288.60" y="326.00" font-size="10" text-anchor="start" fill="#f0f2f5" font-weight="normal" stroke="#f0f2f5" stroke-width="0.25">无</text>
<line x1="307.10" y1="322.40" x2="328.10" y2="322.40" stroke="#6fe0b4" stroke-width="1.3" />
<circle cx="317.6" cy="322.4" r="4.9" fill="#ffffff" stroke="#6fe0b4" stroke-width="1"/>
<text x="331.20" y="326.00" font-size="10" text-anchor="start" fill="#f0f2f5" font-weight="normal" stroke="#f0f2f5" stroke-width="0.25">1</text>
<line x1="346.90" y1="322.40" x2="367.90" y2="322.40" stroke="#f3ef86" stroke-width="1.3" />
<circle cx="357.4" cy="322.4" r="4.9" fill="#ffffff" stroke="#f3ef86" stroke-width="1"/>
<text x="371.00" y="326.00" font-size="10" text-anchor="start" fill="#f0f2f5" font-weight="normal" stroke="#f0f2f5" stroke-width="0.25">真警</text>
<line x1="399.30" y1="322.40" x2="420.30" y2="322.40" stroke="#6cc6f5" stroke-width="1.3" />
<circle cx="409.8" cy="322.4" r="4.9" fill="#ffffff" stroke="#6cc6f5" stroke-width="1"/>
<text x="423.40" y="326.00" font-size="10" text-anchor="start" fill="#f0f2f5" font-weight="normal" stroke="#f0f2f5" stroke-width="0.25">误报</text>
<line x1="452.40" y1="322.40" x2="473.40" y2="322.40" stroke="#f2c58e" stroke-width="1.3" />
<circle cx="462.9" cy="322.4" r="4.9" fill="#ffffff" stroke="#f2c58e" stroke-width="1"/>
<text x="476.50" y="326.00" font-size="10" text-anchor="start" fill="#f0f2f5" font-weight="normal" stroke="#f0f2f5" stroke-width="0.25">故障</text>
<line x1="505.90" y1="322.40" x2="526.90" y2="322.40" stroke="#c395e6" stroke-width="1.3" />
<circle cx="516.4" cy="322.4" r="4.9" fill="#ffffff" stroke="#c395e6" stroke-width="1"/>
<text x="530.00" y="326.00" font-size="10" text-anchor="start" fill="#f0f2f5" font-weight="normal" stroke="#f0f2f5" stroke-width="0.25">其它</text>
<circle cx="175.2" cy="431" r="8.7" fill="none" stroke="#7de3b8" stroke-width="1.6"/>
<rect x="171.79999999999998" y="427.6" width="2" height="6.8" fill="#7de3b8"/>
<rect x="176.39999999999998" y="427.6" width="2" height="6.8" fill="#7de3b8"/>
<polyline points="207.70000000000002,422 198.4,431 207.70000000000002,440" fill="none" stroke="#7de3b8" stroke-width="1.8"/>
<line x1="221.25" y1="431.00" x2="619.40" y2="431.00" stroke="#7de3b8" stroke-width="2.2" />
<circle cx="221.25" cy="431" r="4.6" fill="#ffffff" stroke="#7de3b8" stroke-width="0.6"/>
<circle cx="420.5" cy="431" r="4.6" fill="#ffffff" stroke="#7de3b8" stroke-width="0.6"/>
<circle cx="619.4" cy="431" r="7.3" fill="#5e3f58" fill-opacity="0.75"/>
<circle cx="619.4" cy="431" r="5.2" fill="#88eec4" stroke="#d6f5e6" stroke-width="0.9"/>
<polyline points="633.3,422 642.6999999999999,431 633.3,440" fill="none" stroke="#7de3b8" stroke-width="1.8"/>
<text x="221.25" y="454.20" font-size="10" text-anchor="middle" fill="#f0f2f5" font-weight="normal" stroke="#f0f2f5" stroke-width="0.25">七天</text>
<text x="420.50" y="454.20" font-size="10" text-anchor="middle" fill="#f0f2f5" font-weight="normal" stroke="#f0f2f5" stroke-width="0.25">一月</text>
<text x="619.40" y="454.20" font-size="10" text-anchor="middle" fill="#f0f2f5" font-weight="normal" stroke="#f0f2f5" stroke-width="0.25">一年</text>
<rect x="286" y="15" width="2.2" height="148" fill="#34476a"/>
<rect x="574" y="15" width="2.2" height="297.5" fill="#34476a"/>
<rect x="0" y="163" width="800" height="2.2" fill="#34476a"/>
<rect x="0" y="312.2" width="800" height="2.2" fill="#34476a"/>
</svg>
</body></html>
